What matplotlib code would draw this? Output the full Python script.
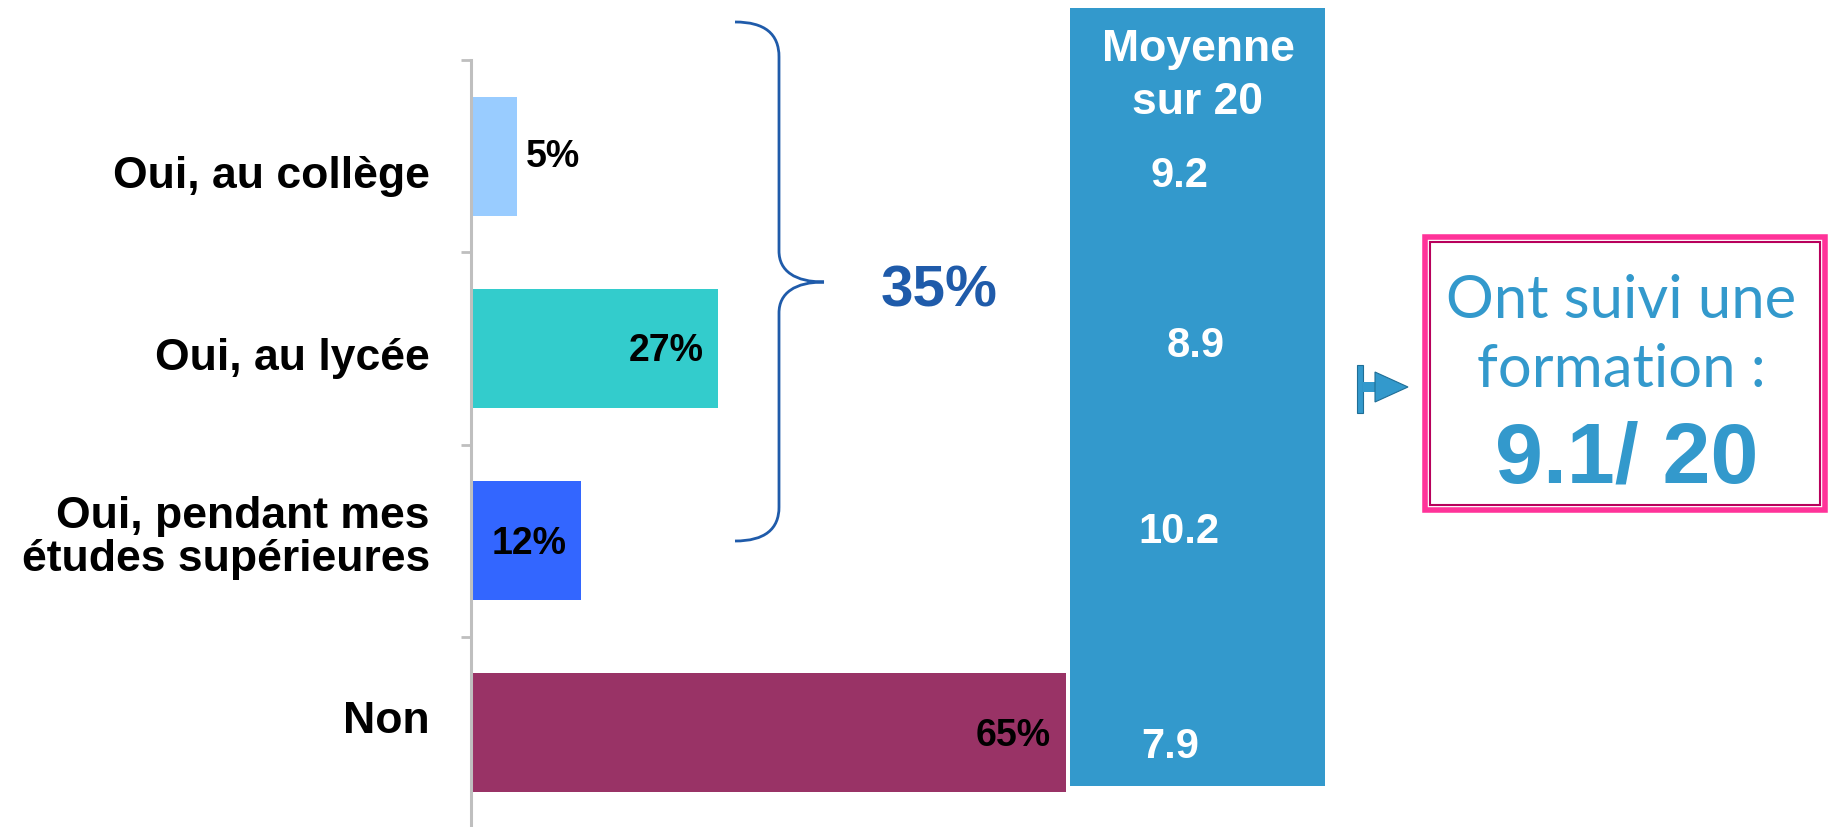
import matplotlib
matplotlib.use("Agg")
import matplotlib.pyplot as plt
from matplotlib.patches import Rectangle, PathPatch, Polygon
from matplotlib.path import Path
import matplotlib.transforms as mtransforms

# ---- data ----
categories = ["Oui, au collège", "Oui, au lycée", "Oui, pendant mes\nétudes supérieures", "Non"]
percent = [5, 27, 12, 65]
moyennes = ["9.2", "8.9", "10.2", "7.9"]
bar_colors = ["#99CCFF", "#33CCCC", "#3366FF", "#993366"]
total_oui = "35%"
moyenne_title = "Moyenne\nsur 20"
box_lines = ["Ont suivi une", "formation :"]
box_value = "9.1/ 20"

W, H = 1829, 828
fig = plt.figure(figsize=(W / 100, H / 100), dpi=100)

def fx(px):
    return px / W

def fy(py):
    return 1 - py / H

# main bar axes
ax = fig.add_axes([fx(471), fy(830), fx(640.5), (830 - 61) / H])
ypos = list(range(len(categories)))
ax.barh(ypos, percent, height=0.62, color=bar_colors, zorder=2)
ax.set_xlim(0, 70)
ax.set_ylim(3.5, -0.5)
for s in ["top", "right", "bottom"]:
    ax.spines[s].set_visible(False)
ax.spines["left"].set_color("#BFBFBF")
ax.spines["left"].set_linewidth(2.2)
ax.set_xticks([])
ax.set_yticks([-0.5, 0.5, 1.5, 2.5, 3.5])
ax.set_yticklabels([])
ax.tick_params(axis="y", length=7, width=2, color="#BFBFBF", direction="out")
ax.patch.set_alpha(0)

lab_tr = mtransforms.blended_transform_factory(fig.transFigure, ax.transData)
label_dy = [0.10, 0.045, -0.02, -0.065]
for i, c in enumerate(categories):
    ax.text(fx(430), i + label_dy[i], c, transform=lab_tr, ha="right", va="center",
            fontsize=32, fontweight="bold", family="Liberation Sans",
            linespacing=1.05, color="black")

for i, p in enumerate(percent):
    txt = f"{p}%"
    if p < 8:
        ax.text(p + 1.0, i, txt, ha="left", va="center", fontsize=27,
                fontweight="bold", family="Liberation Sans", color="black")
    else:
        ax.text(p - 1.6, i + 0.01, txt, ha="right", va="center", fontsize=27,
                fontweight="bold", family="Liberation Sans", color="black")

# overlay axes in pixel coordinates
ov = fig.add_axes([0, 0, 1, 1])
ov.set_xlim(0, W)
ov.set_ylim(H, 0)
ov.axis("off")
ov.patch.set_alpha(0)

# Moyenne column
ov.add_patch(Rectangle((1070, 9), 255, 778, facecolor="#3399CC", edgecolor="none"))
ov.text(1198, 76, moyenne_title, ha="center", va="center", fontsize=32,
        fontweight="bold", family="Liberation Sans", color="white", linespacing=1.35)
mean_dy = [0.10, -0.02, -0.05, 0.07]
mean_x = [1179, 1196, 1179, 1170]
for i, m in enumerate(moyennes):
    ov.text(fx(mean_x[i]), i + mean_dy[i], m, transform=lab_tr, ha="center", va="center",
            fontsize=30, fontweight="bold", family="Liberation Sans", color="white",
            zorder=5)

# Brace
verts = [(735, 23), (765, 23), (779, 35), (779, 58),
         (779, 252),
         (779, 272), (795, 283), (824, 283),
         (795, 283), (779, 294), (779, 314),
         (779, 508),
         (779, 530), (765, 542), (735, 542)]
codes = [Path.MOVETO, Path.CURVE4, Path.CURVE4, Path.CURVE4,
         Path.LINETO,
         Path.CURVE4, Path.CURVE4, Path.CURVE4,
         Path.CURVE4, Path.CURVE4, Path.CURVE4,
         Path.LINETO,
         Path.CURVE4, Path.CURVE4, Path.CURVE4]
ov.add_patch(PathPatch(Path(verts, codes), facecolor="none", edgecolor="#1F5BAA", lw=2.0))
ov.text(939, 292, total_oui, ha="center", va="center", fontsize=42,
        fontweight="bold", family="Liberation Sans", color="#1F5BAA")

# Arrow icon
ov.add_patch(Rectangle((1357, 366), 6, 48, facecolor="#3399CC", edgecolor="#1F6E96", lw=0.8))
ov.add_patch(Rectangle((1363, 383), 14, 10, facecolor="#3399CC", edgecolor="none"))
ov.add_patch(Polygon([(1375, 373), (1408, 388), (1375, 403)], closed=True,
                     facecolor="#3399CC", edgecolor="#1F6E96", lw=0.8))

# Pink box
ov.add_patch(Rectangle((1425, 238), 400, 273, facecolor="white", edgecolor="#FF3399", lw=4))
ov.add_patch(Rectangle((1430, 243), 390, 263, facecolor="none", edgecolor="#B8005C", lw=1.5))
ov.text(1621, 301, box_lines[0], ha="center", va="center", fontsize=43,
        family="Lato", fontweight="normal", color="#3399CC")
ov.text(1621, 370, box_lines[1], ha="center", va="center", fontsize=43,
        family="Lato", fontweight="normal", color="#3399CC")
ov.text(1627, 461, box_value, ha="center", va="center", fontsize=62,
        fontweight="bold", family="Liberation Sans", color="#3399CC")

fig.savefig("out.png", dpi=100, facecolor="white")
